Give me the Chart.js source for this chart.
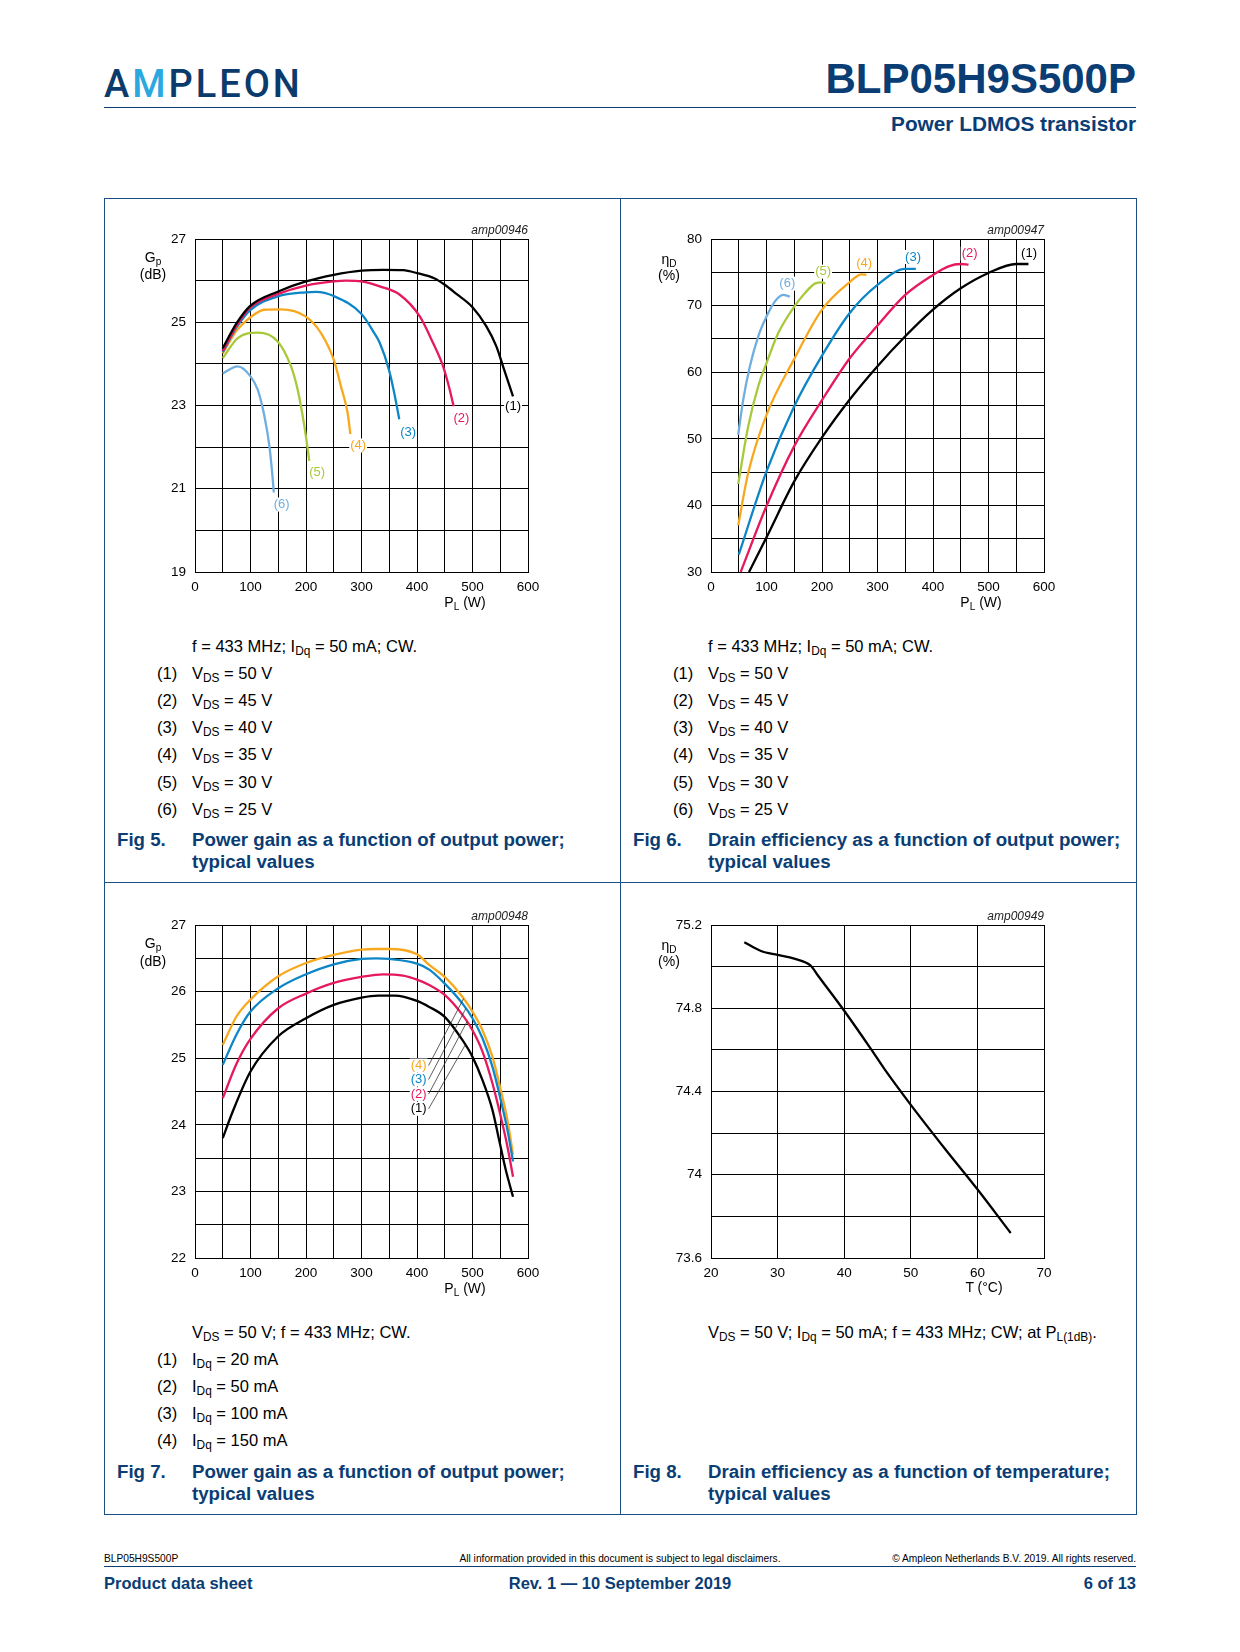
<!DOCTYPE html>
<html lang="en">
<head>
  <meta charset="UTF-8">
  <title>BLP05H9S500P - Power LDMOS transistor - page 6</title>
  <script src="https://cdn.jsdelivr.net/npm/chart.js@4/dist/chart.umd.min.js"></script>
  <style>
    html, body { margin: 0; padding: 0; background: #fff; }
    body { font-family: "Liberation Sans", Arial, sans-serif; color: #000; }
    #page { position: relative; width: 1240px; height: 1652px; overflow: hidden; background: #fff; }
    .a { position: absolute; white-space: nowrap; }
    canvas.c { position: absolute; }
    sub { font-size: 0.72em; vertical-align: -0.28em; line-height: 0; }
    .blue { color: #0a3d74; }
    .logo { font-family: Roboto, "Liberation Sans", sans-serif; font-weight: 500; font-size: 38px; letter-spacing: 3px; line-height: 40px; color: #0b3a6c; }
    .logo span { color: #2aa9e0; }
    .ptitle { font-weight: bold; font-size: 42px; line-height: 46px; }
    .psub { font-weight: bold; font-size: 20.8px; line-height: 24px; }
    .rule { position: absolute; height: 0; border-top: 1.5px solid #0a3d74; }
    .box { position: absolute; border: 1px solid #1b4f88; }
    .body { font-size: 16.5px; line-height: 20px; }
    .fig { font-weight: bold; font-size: 18.7px; line-height: 22px; }
    .axt { font-size: 14px; line-height: 16px; transform: translateX(-50%); text-align: center; }
    .code { font-style: italic; font-size: 12px; line-height: 14px; color: #222; }
    .small { font-size: 10.2px; line-height: 12px; }
    .foot { font-weight: bold; font-size: 16.5px; line-height: 20px; }
  </style>
</head>
<body>
<div id="page">
  <!-- header -->
  <div class="a logo" style="left:104px; top:64px;">A<span>M</span>PLEON</div>
  <div class="a ptitle blue" style="right:104px; top:56px;">BLP05H9S500P</div>
  <div class="rule" style="left:104px; width:1032px; top:107px;"></div>
  <div class="a psub blue" style="right:104px; top:112px;">Power LDMOS transistor</div>

  <!-- figure frame -->
  <div class="box" style="left:104px; top:198px; width:1031px; height:1315px;"></div>
  <div class="a" style="left:620px; top:198px; width:1px; height:1316px; background:#1b4f88;"></div>
  <div class="a" style="left:104px; top:882px; width:1032px; height:1px; background:#1b4f88;"></div>

  <canvas class="c" id="fig5" width="418" height="418" style="left:135px; top:199px;"></canvas>
  <canvas class="c" id="fig6" width="418" height="418" style="left:651px; top:199px;"></canvas>
  <canvas class="c" id="fig7" width="418" height="418" style="left:135px; top:885px;"></canvas>
  <canvas class="c" id="fig8" width="418" height="418" style="left:651px; top:885px;"></canvas>

  <!-- axis titles, fig 5 -->
  <div class="a axt" style="left:153px; top:249px;">G<sub>p</sub></div>
  <div class="a axt" style="left:153px; top:266px;">(dB)</div>
  <div class="a axt" style="left:465px; top:594px;">P<sub>L</sub> (W)</div>
  <div class="a code" style="right:712px; top:223px;">amp00946</div>
  <!-- fig 6 -->
  <div class="a axt" style="left:669px; top:251px;">η<sub>D</sub></div>
  <div class="a axt" style="left:669px; top:267px;">(%)</div>
  <div class="a axt" style="left:981px; top:594px;">P<sub>L</sub> (W)</div>
  <div class="a code" style="right:196px; top:223px;">amp00947</div>
  <!-- fig 7 -->
  <div class="a axt" style="left:153px; top:935px;">G<sub>p</sub></div>
  <div class="a axt" style="left:153px; top:953px;">(dB)</div>
  <div class="a axt" style="left:465px; top:1280px;">P<sub>L</sub> (W)</div>
  <div class="a code" style="right:712px; top:909px;">amp00948</div>
  <!-- fig 8 -->
  <div class="a axt" style="left:669px; top:937px;">η<sub>D</sub></div>
  <div class="a axt" style="left:669px; top:953px;">(%)</div>
  <div class="a axt" style="left:984px; top:1279px;">T (°C)</div>
  <div class="a code" style="right:196px; top:909px;">amp00949</div>

  <!-- fig 5 text -->
  <div class="a body" style="left:192px; top:636px;">f = 433 MHz; I<sub>Dq</sub> = 50 mA; CW.</div>
  <div class="a body" style="left:157px; top:663px;">(1)</div><div class="a body" style="left:192px; top:663px;">V<sub>DS</sub> = 50 V</div>
  <div class="a body" style="left:157px; top:690px;">(2)</div><div class="a body" style="left:192px; top:690px;">V<sub>DS</sub> = 45 V</div>
  <div class="a body" style="left:157px; top:717px;">(3)</div><div class="a body" style="left:192px; top:717px;">V<sub>DS</sub> = 40 V</div>
  <div class="a body" style="left:157px; top:744px;">(4)</div><div class="a body" style="left:192px; top:744px;">V<sub>DS</sub> = 35 V</div>
  <div class="a body" style="left:157px; top:772px;">(5)</div><div class="a body" style="left:192px; top:772px;">V<sub>DS</sub> = 30 V</div>
  <div class="a body" style="left:157px; top:799px;">(6)</div><div class="a body" style="left:192px; top:799px;">V<sub>DS</sub> = 25 V</div>
  <div class="a fig blue" style="left:117px; top:829px;">Fig 5.</div>
  <div class="a fig blue" style="left:192px; top:829px;">Power gain as a function of output power;<br>typical values</div>

  <!-- fig 6 text -->
  <div class="a body" style="left:708px; top:636px;">f = 433 MHz; I<sub>Dq</sub> = 50 mA; CW.</div>
  <div class="a body" style="left:673px; top:663px;">(1)</div><div class="a body" style="left:708px; top:663px;">V<sub>DS</sub> = 50 V</div>
  <div class="a body" style="left:673px; top:690px;">(2)</div><div class="a body" style="left:708px; top:690px;">V<sub>DS</sub> = 45 V</div>
  <div class="a body" style="left:673px; top:717px;">(3)</div><div class="a body" style="left:708px; top:717px;">V<sub>DS</sub> = 40 V</div>
  <div class="a body" style="left:673px; top:744px;">(4)</div><div class="a body" style="left:708px; top:744px;">V<sub>DS</sub> = 35 V</div>
  <div class="a body" style="left:673px; top:772px;">(5)</div><div class="a body" style="left:708px; top:772px;">V<sub>DS</sub> = 30 V</div>
  <div class="a body" style="left:673px; top:799px;">(6)</div><div class="a body" style="left:708px; top:799px;">V<sub>DS</sub> = 25 V</div>
  <div class="a fig blue" style="left:633px; top:829px;">Fig 6.</div>
  <div class="a fig blue" style="left:708px; top:829px;">Drain efficiency as a function of output power;<br>typical values</div>

  <!-- fig 7 text -->
  <div class="a body" style="left:192px; top:1322px;">V<sub>DS</sub> = 50 V; f = 433 MHz; CW.</div>
  <div class="a body" style="left:157px; top:1349px;">(1)</div><div class="a body" style="left:192px; top:1349px;">I<sub>Dq</sub> = 20 mA</div>
  <div class="a body" style="left:157px; top:1376px;">(2)</div><div class="a body" style="left:192px; top:1376px;">I<sub>Dq</sub> = 50 mA</div>
  <div class="a body" style="left:157px; top:1403px;">(3)</div><div class="a body" style="left:192px; top:1403px;">I<sub>Dq</sub> = 100 mA</div>
  <div class="a body" style="left:157px; top:1430px;">(4)</div><div class="a body" style="left:192px; top:1430px;">I<sub>Dq</sub> = 150 mA</div>
  <div class="a fig blue" style="left:117px; top:1461px;">Fig 7.</div>
  <div class="a fig blue" style="left:192px; top:1461px;">Power gain as a function of output power;<br>typical values</div>

  <!-- fig 8 text -->
  <div class="a body" style="left:708px; top:1322px;">V<sub>DS</sub> = 50 V; I<sub>Dq</sub> = 50 mA; f = 433 MHz; CW; at P<sub>L(1dB)</sub>.</div>
  <div class="a fig blue" style="left:633px; top:1461px;">Fig 8.</div>
  <div class="a fig blue" style="left:708px; top:1461px;">Drain efficiency as a function of temperature;<br>typical values</div>

  <!-- footer -->
  <div class="a small" style="left:104px; top:1553px;">BLP05H9S500P</div>
  <div class="a small" style="left:620px; top:1553px; transform:translateX(-50%);">All information provided in this document is subject to legal disclaimers.</div>
  <div class="a small" style="right:104px; top:1553px;">© Ampleon Netherlands B.V. 2019. All rights reserved.</div>
  <div class="rule" style="left:104px; width:1032px; top:1566px;"></div>
  <div class="a foot blue" style="left:104px; top:1573px;">Product data sheet</div>
  <div class="a foot blue" style="left:620px; top:1573px; transform:translateX(-50%);">Rev. 1 — 10 September 2019</div>
  <div class="a foot blue" style="right:104px; top:1573px;">6 of 13</div>
</div>

<script>
  // curve colours, index = curve number - 1
  const curveColors = ['#000000', '#e5195c', '#0d86c7', '#f8a81e', '#a9c93c', '#70aee0'];

  // Fig 5: power gain (dB) vs output power (W), VDS = 50/45/40/35/30/25 V
  const f5P1 = [50, 75, 100, 150, 200, 250, 300, 340, 375, 400, 432, 450, 471, 500, 525, 543, 555, 567, 573];
  const f5G1 = [24.38, 24.98, 25.40, 25.74, 25.98, 26.14, 26.24, 26.26, 26.25, 26.18, 26.05, 25.90, 25.68, 25.36, 24.90, 24.42, 23.94, 23.46, 23.22];
  const f5P2 = [50, 75, 100, 150, 200, 250, 272, 300, 333, 369, 405, 429, 447, 459, 466];
  const f5G2 = [24.30, 24.92, 25.36, 25.68, 25.88, 25.98, 26.00, 25.98, 25.86, 25.66, 25.14, 24.50, 23.94, 23.38, 22.98];
  const f5P3 = [50, 75, 100, 149, 199, 218, 250, 300, 323, 333, 349, 359, 368];
  const f5G3 = [24.28, 24.88, 25.30, 25.62, 25.72, 25.73, 25.63, 25.20, 24.74, 24.50, 23.88, 23.30, 22.67];
  const f5P4 = [50, 75, 100, 125, 155, 199, 227, 250, 263, 275, 280];
  const f5G4 = [24.25, 24.80, 25.12, 25.30, 25.31, 25.14, 24.74, 24.10, 23.46, 22.82, 22.31];
  const f5P5 = [50, 77, 113, 149, 173, 185, 197, 206];
  const f5G5 = [24.14, 24.62, 24.75, 24.54, 23.94, 23.38, 22.51, 21.67];
  const f5P6 = [50, 77, 100, 113, 125, 134, 139, 142];
  const f5G6 = [23.77, 23.94, 23.70, 23.38, 22.75, 22.03, 21.39, 20.91];
  const f5LabelX = [573, 480, 384, 294, 220, 156];
  const f5LabelY = [22.97, 22.68, 22.35, 22.04, 21.40, 20.62];

  // Fig 6: drain efficiency (%) vs output power (W)
  const f6P1 = [68.5, 100, 150, 200, 250, 300, 350, 400, 450, 500, 550, 572];
  const f6E1 = [30, 35.2, 43.6, 50.2, 55.9, 60.9, 65.4, 69.4, 72.6, 74.9, 76.25, 76.25];
  const f6P2 = [53.5, 100, 150, 200, 250, 300, 350, 400, 428, 450, 464];
  const f6E2 = [30, 39.9, 48.9, 55.8, 62.1, 67.0, 71.6, 74.6, 75.9, 76.25, 76.15];
  const f6P3 = [50, 100, 150, 200, 250, 300, 350, 369];
  const f6E3 = [32.6, 45.1, 54.9, 62.5, 68.9, 73.1, 75.5, 75.5];
  const f6P4 = [49, 67, 100, 150, 200, 251, 271, 280];
  const f6E4 = [37.0, 44.85, 53.6, 62.0, 69.4, 73.6, 74.7, 74.6];
  const f6P5 = [49, 67, 85, 100, 121, 150, 169, 187, 200, 206];
  const f6E5 = [43.2, 51.85, 57.85, 61.35, 65.85, 69.85, 71.85, 73.3, 73.5, 73.3];
  const f6P6 = [49, 58, 70, 85, 100, 115, 130, 142];
  const f6E6 = [50.6, 55.85, 60.85, 65.35, 68.35, 70.6, 71.6, 71.35];
  const f6LabelX = [573, 466, 364, 276, 202, 137.5];
  const f6LabelY = [77.9, 77.8, 77.3, 76.4, 75.1, 73.3];

  // Fig 7: power gain (dB) vs output power (W), IDq = 20/50/100/150 mA
  const f7P1 = [50, 68, 100, 150, 200, 250, 300, 330, 360, 400, 422, 450, 482, 500, 518, 536, 548, 560, 573];
  const f7G1 = [23.80, 24.20, 24.80, 25.33, 25.60, 25.80, 25.91, 25.94, 25.94, 25.86, 25.77, 25.62, 25.27, 25.02, 24.67, 24.22, 23.77, 23.32, 22.92];
  const f7P2 = [50, 75, 100, 150, 200, 250, 300, 339, 375, 400, 422, 450, 482, 500, 518, 536, 551, 563, 573];
  const f7G2 = [24.40, 24.92, 25.29, 25.75, 25.97, 26.13, 26.22, 26.26, 26.24, 26.18, 26.10, 25.95, 25.65, 25.42, 25.10, 24.62, 24.12, 23.67, 23.22];
  const f7P3 = [50, 75, 100, 150, 200, 250, 300, 326, 350, 400, 422, 450, 482, 500, 518, 536, 551, 563, 573];
  const f7G3 = [24.90, 25.36, 25.70, 26.05, 26.26, 26.41, 26.49, 26.50, 26.49, 26.42, 26.33, 26.12, 25.82, 25.60, 25.30, 24.87, 24.37, 23.92, 23.45];
  const f7P4 = [50, 75, 100, 150, 200, 250, 300, 326, 350, 400, 422, 450, 482, 500, 518, 536, 551, 563, 573];
  const f7G4 = [25.20, 25.63, 25.88, 26.23, 26.43, 26.55, 26.63, 26.64, 26.64, 26.56, 26.40, 26.22, 25.92, 25.70, 25.42, 25.02, 24.52, 24.07, 23.55];
  const f7LabelX = [403, 403, 403, 403];
  const f7LabelY = [24.24, 24.46, 24.68, 24.89];
  const f7LeadX = [487, 490, 488, 484];

  // Fig 8: drain efficiency (%) vs temperature (°C)
  const f8T = [25, 27.5, 30, 32.5, 35, 36, 40, 44, 46, 50, 55, 60, 65];
  const f8E = [75.117, 75.075, 75.056, 75.038, 75.004, 74.96, 74.788, 74.605, 74.51, 74.336, 74.13, 73.93, 73.72];

  Chart.defaults.font.family = '"Liberation Sans", Arial, sans-serif';
  Chart.defaults.color = '#000';

  function interpAt(pts, xv) {
    for (let i = 1; i < pts.length; i++) {
      if (pts[i].x >= xv) {
        const a = pts[i - 1], b = pts[i];
        return a.y + (b.y - a.y) * (xv - a.x) / (b.x - a.x);
      }
    }
    return pts[pts.length - 1].y;
  }

  function buildChart(id, o) {
    const datasets = o.series.map((s, i) => ({
      data: s[0].map((x, k) => ({ x: x, y: s[1][k] })),
      borderColor: curveColors[i],
      borderWidth: 2.3,
      pointRadius: 0,
      showLine: true,
      fill: false,
      cubicInterpolationMode: 'monotone'
    }));

    const labelPlugin = {
      id: 'curveLabels',
      afterDatasetsDraw(chart) {
        if (!o.labelX) return;
        const { ctx } = chart;
        const xs = chart.scales.x, ys = chart.scales.y;
        ctx.save();
        ctx.font = '13px "Liberation Sans", Arial, sans-serif';
        ctx.textAlign = 'center';
        ctx.textBaseline = 'middle';
        o.labelX.forEach((lx, i) => {
          const px = xs.getPixelForValue(lx), py = ys.getPixelForValue(o.labelY[i]);
          const txt = '(' + (i + 1) + ')';
          const w = ctx.measureText(txt).width;
          if (o.leadX) {
            const tx = o.leadX[i];
            const ty = interpAt(datasets[i].data, tx);
            ctx.strokeStyle = '#333';
            ctx.lineWidth = 0.8;
            ctx.beginPath();
            ctx.moveTo(px + w / 2 + 2, py);
            ctx.lineTo(xs.getPixelForValue(tx), ys.getPixelForValue(ty));
            ctx.stroke();
          }
          ctx.fillStyle = '#fff';
          ctx.fillRect(px - w / 2 - 1, py - 7, w + 2, 14);
          ctx.fillStyle = curveColors[i];
          ctx.fillText(txt, px, py);
        });
        ctx.restore();
      }
    };

    return new Chart(document.getElementById(id), {
      type: 'scatter',
      data: { datasets },
      options: {
        responsive: false,
        animation: false,
        events: [],
        layout: { padding: { top: 40, right: 25, left: 0, bottom: 0 } },
        plugins: { legend: { display: false }, tooltip: { enabled: false } },
        scales: {
          x: {
            type: 'linear', min: o.xMin, max: o.xMax,
            afterFit: s => { s.height = 45; },
            grid: { color: '#000', lineWidth: 1, drawTicks: false },
            border: { color: '#000', width: 1 },
            ticks: { stepSize: o.xStep, autoSkip: false, maxRotation: 0, padding: 7,
                     font: { size: 13.5 }, callback: o.xFmt }
          },
          y: {
            type: 'linear', min: o.yMin, max: o.yMax,
            afterFit: s => { s.width = 60; },
            grid: { color: '#000', lineWidth: 1, drawTicks: false },
            border: { color: '#000', width: 1 },
            ticks: { stepSize: o.yStep, autoSkip: false, padding: 9,
                     font: { size: 13.5 }, callback: o.yFmt }
          }
        }
      },
      plugins: [labelPlugin]
    });
  }

  const powerFmt = v => (v % 100 === 0 ? String(v) : '');

  buildChart('fig5', {
    series: [[f5P1, f5G1], [f5P2, f5G2], [f5P3, f5G3], [f5P4, f5G4], [f5P5, f5G5], [f5P6, f5G6]],
    xMin: 0, xMax: 600, xStep: 50, xFmt: powerFmt,
    yMin: 19, yMax: 27, yStep: 1, yFmt: v => ((Math.round(v) - 19) % 2 === 0 ? String(v) : ''),
    labelX: f5LabelX, labelY: f5LabelY
  });

  buildChart('fig6', {
    series: [[f6P1, f6E1], [f6P2, f6E2], [f6P3, f6E3], [f6P4, f6E4], [f6P5, f6E5], [f6P6, f6E6]],
    xMin: 0, xMax: 600, xStep: 50, xFmt: powerFmt,
    yMin: 30, yMax: 80, yStep: 5, yFmt: v => (v % 10 === 0 ? String(v) : ''),
    labelX: f6LabelX, labelY: f6LabelY
  });

  buildChart('fig7', {
    series: [[f7P1, f7G1], [f7P2, f7G2], [f7P3, f7G3], [f7P4, f7G4]],
    xMin: 0, xMax: 600, xStep: 50, xFmt: powerFmt,
    yMin: 22, yMax: 27, yStep: 0.5, yFmt: v => (Number.isInteger(Math.round(v * 100) / 100) ? String(Math.round(v)) : ''),
    labelX: f7LabelX, labelY: f7LabelY, leadX: f7LeadX
  });

  buildChart('fig8', {
    series: [[f8T, f8E]],
    xMin: 20, xMax: 70, xStep: 10, xFmt: v => String(v),
    yMin: 73.6, yMax: 75.2, yStep: 0.2,
    yFmt: v => (Math.round(v * 10) % 4 === 0 ? String(Number(v.toFixed(1))) : '')
  });
</script>
</body>
</html>
